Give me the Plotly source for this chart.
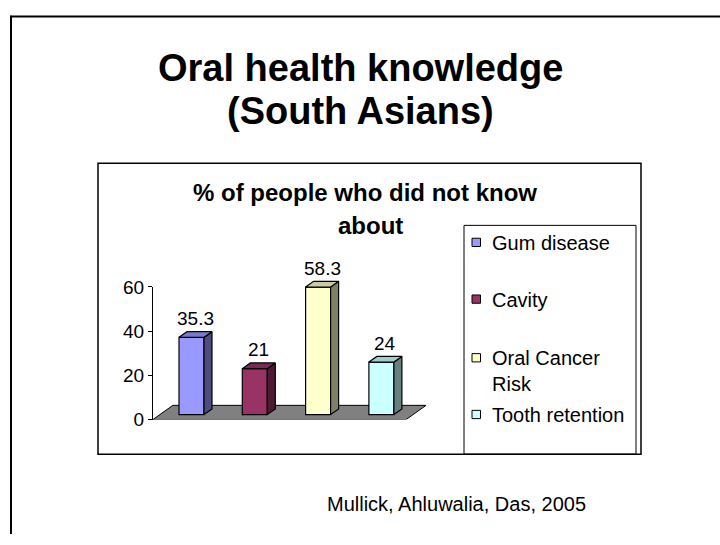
import plotly.graph_objects as go

# ---- data -------------------------------------------------------------
categories = ["Gum disease", "Cavity", "Oral Cancer Risk", "Tooth retention"]
legend_labels = ["Gum disease", "Cavity", "Oral Cancer<br>Risk", "Tooth retention"]
values = [35.3, 21, 58.3, 24]
value_labels = ["35.3", "21", "58.3", "24"]
y_ticks = [0, 20, 40, 60]

front_colors = ["#9999FF", "#993366", "#FFFFCC", "#CCFFFF"]
top_colors = ["#7A7ACC", "#7A2952", "#CCCCA3", "#A3CCCC"]
side_colors = ["#4D4D80", "#4D1A33", "#808066", "#668080"]

# ---- page geometry helpers (pixels -> paper fractions) -----------------
W, H = 720, 545


def px(x):
    return x / W


def py(y):
    return 1 - y / H


FONT = "Liberation Sans, Arial, sans-serif"

# oblique projection of the floor depth, in axis units
DEPTH_X = 0.316   # category units over the full floor depth
DEPTH_Y = 6.5     # value units over the full floor depth
Z_FRONT, Z_BACK = 0.35, 0.75
BAR_W = 0.395

n = len(values)
idx = list(range(n))
fx = [i + Z_FRONT * DEPTH_X for i in idx]          # centre of each front face
base = Z_FRONT * DEPTH_Y
ddx = (Z_BACK - Z_FRONT) * DEPTH_X
ddy = (Z_BACK - Z_FRONT) * DEPTH_Y

# axis placement: category step 63.3 px; value step 2.3 px on the tick axis,
# 2.276 px on the axis carrying the 3-D columns
X0_PX, X_STEP = 184.5, 63.3
Y0_PX, Y_STEP, Y2_STEP = 426.0, 2.3, 2.276
x_range = [-0.5, n - 0.5 + DEPTH_X + 0.2]
x_dom = [px(X0_PX + X_STEP * x_range[0]), px(X0_PX + X_STEP * x_range[1])]
y_dom = [py(Y0_PX), py(Y0_PX - Y_STEP * 60)]
y2_range = [0, 72]
y2_dom = [py(Y0_PX), py(Y0_PX - Y2_STEP * y2_range[1])]

fig = go.Figure()

# front faces of the columns
fig.add_trace(go.Bar(
    x=fx, y=values, base=base, width=BAR_W,
    marker=dict(color=front_colors, line=dict(color="black", width=1.2)),
    xaxis="x", yaxis="y2", showlegend=False, hoverinfo="skip",
))

# side and top faces
for i, v in enumerate(values):
    xl = fx[i] - BAR_W / 2
    xr = fx[i] + BAR_W / 2
    top = base + v
    fig.add_trace(go.Scatter(
        x=[xr, xr + ddx, xr + ddx, xr, xr],
        y=[base, base + ddy, top + ddy, top, base],
        fill="toself", fillcolor=side_colors[i], mode="lines",
        line=dict(color="black", width=1.2),
        xaxis="x", yaxis="y2", showlegend=False, hoverinfo="skip",
    ))
    fig.add_trace(go.Scatter(
        x=[xl, xr, xr + ddx, xl + ddx, xl],
        y=[top, top, top + ddy, top + ddy, top],
        fill="toself", fillcolor=top_colors[i], mode="lines",
        line=dict(color="black", width=1.2),
        xaxis="x", yaxis="y2", showlegend=False, hoverinfo="skip",
    ))

# an empty trace on the tick axis so that axis is drawn
fig.add_trace(go.Scatter(x=[None], y=[None], xaxis="x", yaxis="y",
                         showlegend=False, hoverinfo="skip"))

shapes = []
# gray floor under the columns
shapes.append(dict(
    type="path", xref="x", yref="y2", layer="below",
    path=(f"M {-0.5},0 L {-0.5 + DEPTH_X},{DEPTH_Y} "
          f"L {n - 0.5 + DEPTH_X},{DEPTH_Y} L {n - 0.5},0 Z"),
    fillcolor="#808080", line=dict(color="black", width=1),
))

# slide frame
shapes.append(dict(type="line", xref="paper", yref="paper",
                   x0=px(10), x1=1, y0=py(6.7), y1=py(6.7),
                   line=dict(color="black", width=2)))
shapes.append(dict(type="line", xref="paper", yref="paper",
                   x0=px(11), x1=px(11), y0=py(6), y1=0,
                   line=dict(color="black", width=2)))
# chart area frame
shapes.append(dict(type="rect", xref="paper", yref="paper",
                   x0=px(98), x1=px(641), y0=py(462), y1=py(159.5),
                   line=dict(color="black", width=1.5)))
# legend frame
shapes.append(dict(type="rect", xref="paper", yref="paper",
                   x0=px(464), x1=px(636), y0=py(462), y1=py(224),
                   line=dict(color="black", width=1)))

annotations = []
# slide title
annotations.append(dict(text="<b>Oral health knowledge</b>", x=0.5, y=py(60),
                        xref="paper", yref="paper", showarrow=False,
                        xanchor="center", yanchor="middle", borderpad=0,
                        font=dict(family=FONT, size=38, color="black")))
annotations.append(dict(text="<b>(South Asians)</b>", x=0.5, y=py(105.5),
                        xref="paper", yref="paper", showarrow=False,
                        xanchor="center", yanchor="middle", borderpad=0,
                        font=dict(family=FONT, size=38, color="black")))
# chart title
annotations.append(dict(text="<b>% of people who did not know</b>", x=px(365), y=py(189.5),
                        xref="paper", yref="paper", showarrow=False,
                        xanchor="center", yanchor="middle",
                        font=dict(family=FONT, size=24, color="black")))
annotations.append(dict(text="<b>about</b>", x=px(371), y=py(224),
                        xref="paper", yref="paper", showarrow=False,
                        xanchor="center", yanchor="middle",
                        font=dict(family=FONT, size=24, color="black")))

# value labels above the columns
for i, v in enumerate(values):
    annotations.append(dict(text=value_labels[i], x=fx[i] + ddx / 2, y=base + v,
                            xref="x", yref="y2", showarrow=False,
                            xanchor="center", yanchor="middle", yshift=19,
                            font=dict(family=FONT, size=19, color="black")))

# legend
legend_y = [241.7, 300.7, 361.7, 420.7]
for i, lab in enumerate(legend_labels):
    yc = legend_y[i]
    shapes.append(dict(type="rect", xref="paper", yref="paper",
                       x0=px(472), x1=px(480.5), y0=py(yc + 4.3), y1=py(yc - 4.3),
                       fillcolor=front_colors[i], line=dict(color="black", width=1)))
    annotations.append(dict(text=lab, x=px(490), y=py(yc - 13),
                            xref="paper", yref="paper", showarrow=False,
                            xanchor="left", yanchor="top", align="left",
                            font=dict(family=FONT, size=20, color="black")))

# source note
annotations.append(dict(text="Mullick, Ahluwalia, Das, 2005", x=px(325), y=py(513.7),
                        xref="paper", yref="paper", showarrow=False,
                        xanchor="left", yanchor="middle",
                        font=dict(family=FONT, size=20, color="black")))

fig.update_layout(
    width=W, height=H, autosize=False,
    margin=dict(l=0, r=0, t=0, b=0, pad=0),
    paper_bgcolor="white", plot_bgcolor="rgba(0,0,0,0)",
    showlegend=False,
    xaxis=dict(domain=x_dom, range=x_range, visible=False, fixedrange=True),
    yaxis=dict(domain=y_dom, range=[0, 60], anchor="x",
               tickvals=y_ticks, ticktext=[str(t) for t in y_ticks],
               showgrid=False, zeroline=False, showline=True,
               linecolor="black", linewidth=1, ticks="outside", ticklen=4,
               tickcolor="black", tickfont=dict(family=FONT, size=19, color="black"),
               fixedrange=True),
    yaxis2=dict(domain=y2_dom, range=y2_range, anchor="x", visible=False,
                fixedrange=True),
    shapes=shapes, annotations=annotations,
)

fig.write_html("out.html")
